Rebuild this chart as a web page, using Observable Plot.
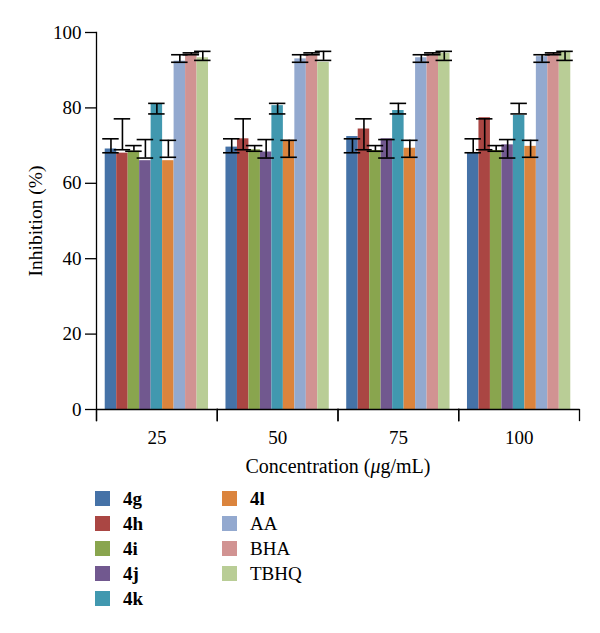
<!DOCTYPE html>
<html><head><meta charset="utf-8">
<script src="https://cdn.jsdelivr.net/npm/d3@7"></script>
<script src="https://cdn.jsdelivr.net/npm/@observablehq/plot@0.6"></script>
<style>
body{margin:0;background:#fff;font-family:"Liberation Serif","Times New Roman",serif;}
#legend{display:grid;grid-template-columns:127px 150px;grid-auto-flow:column;grid-template-rows:repeat(5,25px);margin-left:95px;margin-top:4px;}
.item{display:flex;align-items:center;font-family:"Liberation Serif","Times New Roman",serif;font-size:19px;color:#000;}
.item span{font-family:"Liberation Serif","Times New Roman",serif;}
.sw{width:15px;height:15px;margin-right:13px;flex:none;}
</style></head><body>
<div id="chart"></div><div id="legend"></div>
<script>
const groups = ["25", "50", "75", "100"];
const compounds = ["4g", "4h", "4i", "4j", "4k", "4l", "AA", "BHA", "TBHQ"];
const boldLabels = ["4g", "4h", "4i", "4j", "4k", "4l"];
const colors = ["#4572A7", "#AA4643", "#89A54E", "#71588F", "#4198AF", "#DB843D", "#93A9CF", "#D19392", "#B9CD96"];
const inhibition25  = [69.1, 68.0, 68.5, 66.0, 81.1, 66.0, 92.4, 94.3, 93.3];
const inhibition50  = [69.6, 71.8, 68.9, 68.3, 80.6, 71.4, 93.0, 94.1, 92.1];
const inhibition75  = [72.4, 74.4, 68.7, 71.8, 79.3, 69.3, 93.3, 94.3, 94.5];
const inhibition100 = [68.1, 77.4, 68.7, 70.2, 78.0, 69.8, 93.6, 94.5, 95.0];
const errLow  = [68.1, 68.9, 68.5, 66.7, 78.4, 66.9, 92.1, 94.1, 92.6];
const errHigh = [71.8, 77.1, 70.0, 71.6, 81.2, 71.4, 94.1, 94.6, 95.0];
const yTicks = [0, 20, 40, 60, 80, 100];
const yLabel = "Inhibition (%)";
const xLabel = "Concentration (μg/mL)";

const series = [inhibition25, inhibition50, inhibition75, inhibition100];
const data = [];
groups.forEach((g, gi) => compounds.forEach((c, ci) => data.push({
  group: g, compound: c, value: series[gi][ci], lo: errLow[ci], hi: errHigh[ci]
})));

const W = 600, H = 482, mt = 32, mb = 73, ml = 96, mr = 21;
const plotH = H - mt - mb;
const ink = "#000";

const chart = Plot.plot({
  width: W, height: H, marginTop: mt, marginBottom: mb, marginLeft: ml, marginRight: mr,
  style: {fontFamily: "'Liberation Serif', serif", fontSize: "19px", color: ink, background: "#fff"},
  fx: {domain: groups, padding: 0, round: false},
  x: {domain: compounds, paddingInner: 0, paddingOuter: 0.76, round: false, axis: null},
  y: {domain: [0, 100]},
  color: {domain: compounds, range: colors},
  marks: [
    Plot.barY(data, {fx: "group", x: "compound", y: "value", fill: "compound", inset: 0}),
    Plot.ruleX(data, {fx: "group", x: "compound", y1: "lo", y2: "hi", stroke: ink, strokeWidth: 1.6}),
    Plot.tickY(data, {fx: "group", x: "compound", y: "lo", stroke: ink, strokeWidth: 1.6, insetLeft: -2.5, insetRight: -2.5}),
    Plot.tickY(data, {fx: "group", x: "compound", y: "hi", stroke: ink, strokeWidth: 1.6, insetLeft: -2.5, insetRight: -2.5}),
    Plot.ruleY([0], {stroke: ink, strokeWidth: 1.3}),
    Plot.frame({anchor: "left", insetTop: plotH, insetBottom: -11, stroke: ink, strokeWidth: 1.3}),
    Plot.frame({anchor: "right", insetTop: plotH, insetBottom: -11, stroke: ink, strokeWidth: 1.3}),
    Plot.frame({anchor: "left", facet: "super", insetBottom: -11, stroke: ink, strokeWidth: 1.3}),
    Plot.axisY({ticks: yTicks, tickSize: 11, tickPadding: 4, fontSize: 19, strokeWidth: 1.3,
      label: yLabel, labelAnchor: "center", labelOffset: 68, labelArrow: "none"}),
    Plot.axisFx({anchor: "bottom", tickSize: 0, tickPadding: 21, fontSize: 19,
      label: xLabel, labelAnchor: "center", labelOffset: 63, labelArrow: "none"})
  ]
});

const root = d3.select(chart);
root.selectAll("text").filter(function () { return this.textContent === yLabel; })
  .style("font-size", "19.5px");
root.selectAll("text").filter(function () { return this.textContent === xLabel; })
  .style("font-size", "20px")
  .each(function () {
    const t = d3.select(this);
    t.text(null);
    t.append("tspan").text("Concentration (");
    t.append("tspan").attr("font-style", "italic").text("μ");
    t.append("tspan").text("g/mL)");
  });

document.getElementById("chart").appendChild(chart);

const legend = d3.select("#legend");
compounds.forEach((c, i) => {
  const it = legend.append("div").attr("class", "item");
  it.append("div").attr("class", "sw").style("background", colors[i]);
  it.append("span").style("font-weight", boldLabels.includes(c) ? "bold" : "normal").text(c);
});
</script>
</body></html>
